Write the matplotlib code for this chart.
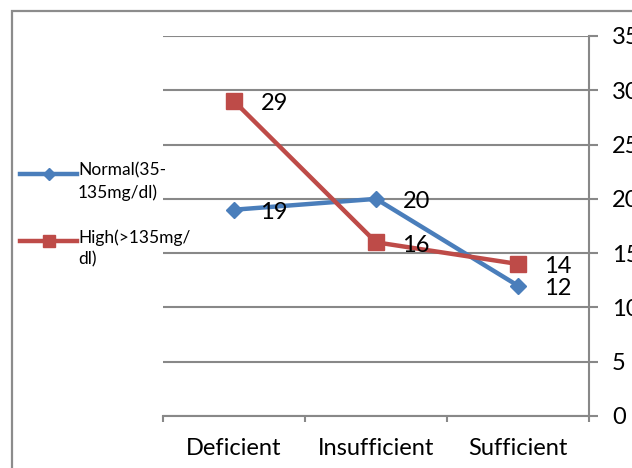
import matplotlib.pyplot as plt
from matplotlib.lines import Line2D
from matplotlib.patches import Rectangle

categories = ["Deficient", "Insufficient", "Sufficient"]
normal = [19, 20, 12]
high = [29, 16, 14]
series_labels = ["Normal(35-\n135mg/dl)", "High(>135mg/\ndl)"]
y_ticks = [0, 5, 10, 15, 20, 25, 30, 35]

blue = "#4a7ebb"
red = "#be4b48"
grey = "#888888"

plt.rcParams['font.family'] = ['Lato', 'DejaVu Sans']

W, H = 632, 468
fig = plt.figure(figsize=(W / 100, H / 100), dpi=100)

# outer frame (cut off right and bottom like the original)
fig.add_artist(Rectangle((12 / W, -0.5), 2.0, 1.5 - 11 / H, transform=fig.transFigure,
                         fill=False, edgecolor="#8c8c8c", lw=1.6))

ax = fig.add_axes([163 / W, 1 - 416 / H, (589 - 163) / W, (416 - 36) / H])
x = list(range(len(categories)))

ax.plot(x, normal, color=blue, lw=3.2, marker="D", ms=8.5, zorder=3)
ax.plot(x, high, color=red, lw=3.2, marker="s", ms=12, zorder=3)

for xi, v in zip(x, normal):
    ax.annotate(str(v), (xi, v), xytext=(19, -2), textcoords="offset points",
                ha="left", va="center", fontsize=17)
for xi, v in zip(x, high):
    ax.annotate(str(v), (xi, v), xytext=(19, -2), textcoords="offset points",
                ha="left", va="center", fontsize=17)

ax.set_xlim(-0.5, len(categories) - 0.5)
ax.set_ylim(0, 35)
ax.set_yticks(y_ticks)
ax.yaxis.tick_right()
ax.yaxis.set_label_position("right")
ax.tick_params(axis="y", direction="out", length=6.5, width=1.5, color=grey,
               pad=10, labelsize=17, left=False, right=True)
ax.grid(axis="y", color=grey, lw=1.5)
ax.set_axisbelow(True)

ax.set_xticks(x)
ax.set_xticklabels(categories)
ax.set_xticks([-0.5, 0.5, 1.5, 2.5], minor=True)
ax.tick_params(axis="x", which="major", length=0, pad=16, labelsize=17)
ax.tick_params(axis="x", which="minor", direction="out", length=4, width=1.5, color=grey)

for s in ["top", "left"]:
    ax.spines[s].set_visible(False)
for s in ["right", "bottom"]:
    ax.spines[s].set_color(grey)
    ax.spines[s].set_linewidth(1.5)

# legend drawn on the left, handle level with first text line
legend_y = [174, 241]
markers = [("D", 6, blue), ("s", 9, red)]
for (m, ms, c), lab, yy in zip(markers, series_labels, legend_y):
    fig.add_artist(Line2D([20 / W, 48.5 / W, 77 / W], [1 - yy / H] * 3,
                          transform=fig.transFigure, color=c, lw=3.2,
                          marker=m, ms=ms, markevery=[1]))
    fig.text(78 / W, 1 - (yy - 12) / H, lab, fontsize=12.5, ha="left", va="top",
             linespacing=1.45)

fig.savefig("out.png", dpi=100)
